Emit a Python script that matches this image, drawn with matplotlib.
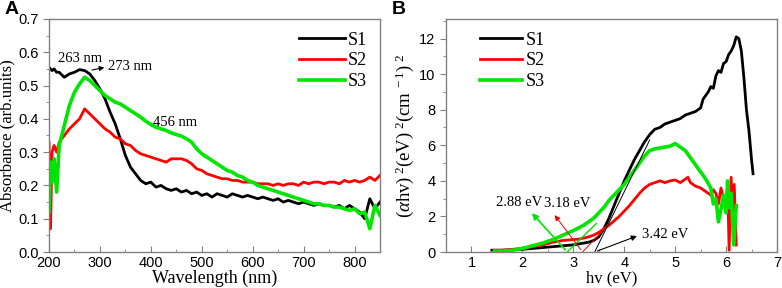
import matplotlib
matplotlib.use("Agg")
import matplotlib.pyplot as plt
from matplotlib.ticker import MultipleLocator

plt.rcParams['mathtext.fontset'] = 'custom'
plt.rcParams['mathtext.rm'] = 'Liberation Serif'
plt.rcParams['mathtext.it'] = 'Liberation Serif:italic'

SERIF = 'Liberation Serif'
SANS = 'Liberation Sans'

# ---------------- Panel A data ----------------
wavelength = [200, 203, 206, 210, 215, 220] + list(range(230, 851, 10))

abs_s1 = [0.555, 0.55, 0.545, 0.55, 0.54, 0.54,
          0.525, 0.535, 0.54, 0.548, 0.545, 0.535, 0.515, 0.49, 0.46, 0.42,
          0.385, 0.34, 0.29, 0.255, 0.235, 0.215, 0.205, 0.21, 0.195, 0.2,
          0.19, 0.185, 0.19, 0.18, 0.185, 0.175, 0.18, 0.17, 0.175, 0.165,
          0.175, 0.17, 0.165, 0.175, 0.17, 0.165, 0.17, 0.165, 0.16, 0.165,
          0.16, 0.155, 0.16, 0.15, 0.155, 0.15, 0.145, 0.15, 0.145, 0.14,
          0.145, 0.14, 0.14, 0.135, 0.14, 0.13, 0.14, 0.13, 0.12, 0.10,
          0.16, 0.13, 0.15]

abs_s2 = [0.33, 0.07, 0.30, 0.32, 0.30, 0.33,
          0.35, 0.37, 0.385, 0.40, 0.43, 0.415, 0.40, 0.385, 0.37, 0.36,
          0.345, 0.34, 0.325, 0.32, 0.305, 0.295, 0.29, 0.285, 0.28, 0.275,
          0.27, 0.28, 0.28, 0.28, 0.275, 0.265, 0.25, 0.245, 0.235, 0.23,
          0.225, 0.22, 0.22, 0.215, 0.215, 0.21, 0.21, 0.21, 0.205, 0.205,
          0.205, 0.2, 0.205, 0.2, 0.205, 0.205, 0.2, 0.21, 0.205, 0.21,
          0.21, 0.205, 0.21, 0.21, 0.205, 0.215, 0.21, 0.215, 0.21, 0.215,
          0.225, 0.215, 0.23]

abs_s3 = [0.12, 0.27, 0.21, 0.28, 0.18, 0.32,
          0.38, 0.44, 0.48, 0.505, 0.525, 0.515, 0.50, 0.485, 0.47, 0.46,
          0.45, 0.445, 0.435, 0.425, 0.415, 0.405, 0.393, 0.383, 0.375, 0.37,
          0.365, 0.358, 0.353, 0.348, 0.34, 0.33, 0.31, 0.295, 0.285, 0.275,
          0.265, 0.255, 0.245, 0.24, 0.23, 0.225, 0.215, 0.21, 0.2, 0.195,
          0.19, 0.185, 0.18, 0.175, 0.17, 0.165, 0.16, 0.155, 0.15, 0.145,
          0.145, 0.14, 0.14, 0.135, 0.135, 0.13, 0.125, 0.13, 0.115, 0.12,
          0.07, 0.14, 0.11]

# ---------------- Panel B data ----------------
hv_s1 = [1.40, 1.6, 1.8, 2.0, 2.2, 2.4, 2.6, 2.8, 3.0, 3.1, 3.2, 3.3, 3.4,
         3.5, 3.6, 3.7, 3.8, 3.9, 4.0, 4.1, 4.2, 4.3, 4.4, 4.5, 4.6, 4.7,
         4.8, 4.9, 5.0, 5.1, 5.2, 5.3, 5.4, 5.5, 5.55, 5.6, 5.65, 5.7, 5.75,
         5.8, 5.85, 5.9, 5.95, 6.0, 6.05, 6.1, 6.15, 6.2, 6.25, 6.3, 6.35,
         6.4, 6.45, 6.5, 6.53]
tauc_s1 = [0.1, 0.1, 0.12, 0.15, 0.2, 0.25, 0.3, 0.35, 0.4, 0.45, 0.5, 0.55,
           0.65, 0.85, 1.3, 1.9, 2.6, 3.3, 4.0, 4.6, 5.2, 5.7, 6.2, 6.6, 6.9,
           7.0, 7.2, 7.3, 7.4, 7.5, 7.7, 7.8, 7.9, 8.1, 8.6, 8.8, 9.0, 9.3,
           9.2, 9.9, 10.2, 10.1, 10.6, 10.7, 11.1, 11.3, 11.6, 12.1, 12.0,
           11.3, 9.8, 8.0, 6.8, 5.2, 4.4]

hv_s2 = [1.45, 1.6, 1.8, 2.0, 2.2, 2.4, 2.6, 2.8, 3.0, 3.1, 3.2, 3.3, 3.4,
         3.5, 3.6, 3.7, 3.8, 3.9, 4.0, 4.1, 4.2, 4.3, 4.4, 4.5, 4.6, 4.7,
         4.8, 4.9, 5.0, 5.1, 5.2, 5.25, 5.3, 5.4, 5.5, 5.6, 5.7, 5.75, 5.8,
         5.85, 5.9, 5.95, 6.0, 6.03, 6.06, 6.1, 6.13, 6.16, 6.2]
tauc_s2 = [0.1, 0.1, 0.15, 0.2, 0.3, 0.4, 0.55, 0.65, 0.7, 0.72, 0.78, 0.85,
           0.95, 1.1, 1.3, 1.5, 1.75, 2.0, 2.3, 2.6, 2.95, 3.3, 3.6, 3.8,
           3.9, 4.0, 3.9, 4.0, 4.05, 3.9, 4.1, 4.2, 3.9, 3.7, 3.6, 3.4, 3.2,
           3.5, 3.3, 2.7, 3.6, 3.0, 2.6, 3.6, 0.1, 4.2, 1.5, 3.8, 0.4]

hv_s3 = [1.45, 1.6, 1.8, 2.0, 2.2, 2.4, 2.6, 2.8, 3.0, 3.1, 3.2, 3.3, 3.4,
         3.5, 3.6, 3.7, 3.8, 3.9, 4.0, 4.1, 4.2, 4.3, 4.4, 4.5, 4.6, 4.7,
         4.8, 4.9, 5.0, 5.1, 5.2, 5.3, 5.4, 5.5, 5.6, 5.7, 5.75, 5.8, 5.85,
         5.9, 5.95, 6.0, 6.03, 6.06, 6.1, 6.15, 6.2]
tauc_s3 = [0.05, 0.05, 0.1, 0.2, 0.35, 0.5, 0.7, 0.95, 1.2, 1.35, 1.5, 1.7,
           1.9, 2.2, 2.5, 2.9, 3.2, 3.5, 3.8, 4.2, 4.6, 5.0, 5.4, 5.7, 5.8,
           5.85, 5.9, 5.95, 6.1, 5.9, 5.7, 5.3, 4.9, 4.5, 4.1, 3.6, 2.7, 3.0,
           1.7, 2.4, 3.2, 2.2, 4.0, 2.5, 3.3, 0.4, 2.6]

series_labels = ['S1', 'S2', 'S3']
colors = ['#000000', '#ff0000', '#00e600']

# Band gap values (eV)
gap_s1, gap_s2, gap_s3 = 3.42, 3.18, 2.88

fig = plt.figure(figsize=(7.82, 2.88), dpi=100)
axA = fig.add_axes([49/782, 1-252/288, 331/782, 233/288])
axB = fig.add_axes([446/782, 1-252/288, 331/782, 233/288])

FRAME = '#808080'

def style(ax):
    for s in ax.spines.values():
        s.set_color(FRAME)
        s.set_linewidth(1.0)
    ax.tick_params(axis='x', which='both', direction='in', colors=FRAME,
                   labelcolor='black', labelsize=10.5, pad=3)
    ax.tick_params(axis='y', which='both', direction='out', colors=FRAME,
                   labelcolor='black', labelsize=10.5)
    ax.tick_params(which='major', length=4)
    ax.tick_params(which='minor', length=2.5)
    for lab in ax.get_xticklabels() + ax.get_yticklabels():
        lab.set_family(SANS)

# ---- Panel A ----
for y, c, l in zip([abs_s1, abs_s2, abs_s3], colors, series_labels):
    axA.plot(wavelength, y, color=c, lw=2.0 if c != '#00e600' else 2.6, label=l)
axA.set_xlim(200, 850)
axA.set_ylim(0, 0.7)
axA.xaxis.set_major_locator(MultipleLocator(100))
axA.xaxis.set_minor_locator(MultipleLocator(50))
axA.yaxis.set_major_locator(MultipleLocator(0.1))
axA.yaxis.set_minor_locator(MultipleLocator(0.05))
style(axA)
axA.set_xlabel('Wavelength (nm)', family=SERIF, fontsize=13, labelpad=0)
axA.set_ylabel('Absorbance (arb.units)', family=SERIF, fontsize=12, labelpad=2)
axA.text(217, 0.58, '263 nm', family=SERIF, fontsize=10.5, va='center')
axA.text(315, 0.556, '273 nm', family=SERIF, fontsize=10.5, va='center')
axA.annotate('', xy=(314, 0.556), xytext=(279, 0.545),
             arrowprops=dict(arrowstyle='-|>', color='black', lw=0.8,
                             mutation_scale=7))
axA.text(404, 0.39, '456 nm', family=SERIF, fontsize=10.5, va='center')
legA = axA.legend(loc='upper right', bbox_to_anchor=(1.0, 1.0), frameon=False,
                  prop={'family': SERIF, 'size': 13}, handlelength=2.5,
                  handletextpad=0.2, labelspacing=0.2, borderaxespad=0.3)

# ---- Panel B ----
for x, y, c, l in zip([hv_s1, hv_s2, hv_s3], [tauc_s1, tauc_s2, tauc_s3],
                      colors, series_labels):
    axB.plot(x, y, color=c, lw=2.0 if c != '#00e600' else 2.6, label=l)
axB.set_xlim(0.5, 7)
axB.set_ylim(0, 13.1)
axB.xaxis.set_major_locator(MultipleLocator(1))
axB.xaxis.set_minor_locator(MultipleLocator(0.5))
axB.yaxis.set_major_locator(MultipleLocator(2))
axB.yaxis.set_minor_locator(MultipleLocator(1))
style(axB)
axB.set_xlabel('hv (eV)', family=SERIF, fontsize=12, labelpad=0)
axB.set_ylabel(r'($\alpha$hv)$^{\ 2}$(eV)$^{\ 2}$(cm$^{\ -1}$)$^{\ 2}$',
               family=SERIF, fontsize=13.5, labelpad=2)

# tangent lines and arrows
axB.plot([gap_s1, 4.5], [0, 6.3], color='black', lw=0.7)
axB.plot([gap_s3, 3.45], [0, 1.6], color='#00e600', lw=1.0)
axB.plot([gap_s2, 3.55], [0, 1.1], color='#ff0000', lw=0.7)
axB.annotate('', xy=(2.15, 2.3), xytext=(gap_s3, 0),
             arrowprops=dict(arrowstyle='-|>', color='#00e600', lw=1.2,
                             mutation_scale=9))
axB.annotate('', xy=(2.6, 2.2), xytext=(gap_s2, 0),
             arrowprops=dict(arrowstyle='-|>', color='#ff0000', lw=0.7,
                             mutation_scale=8))
axB.annotate('', xy=(4.3, 0.95), xytext=(gap_s1, 0),
             arrowprops=dict(arrowstyle='-|>', color='black', lw=0.8,
                             mutation_scale=8))
axB.text(1.48, 2.8, '%.2f eV' % gap_s3, family=SERIF, fontsize=10.5, va='center')
axB.text(2.42, 2.7, '%.2f eV' % gap_s2, family=SERIF, fontsize=10.5, va='center')
axB.text(4.34, 1.0, '%.2f eV' % gap_s1, family=SERIF, fontsize=10.5, va='center')
legB = axB.legend(loc='upper left', bbox_to_anchor=(0.065, 1.0), frameon=False,
                  prop={'family': SERIF, 'size': 13}, handlelength=2.3,
                  handletextpad=0.2, labelspacing=0.2, borderaxespad=0.3)

fig.text(5/782, 1-10/288, 'A', family=SANS, fontweight='bold', fontsize=14,
         va='center', ha='left')
fig.text(392/782, 1-10/288, 'B', family=SANS, fontweight='bold', fontsize=14,
         va='center', ha='left')

fig.savefig('out.png', dpi=100)
